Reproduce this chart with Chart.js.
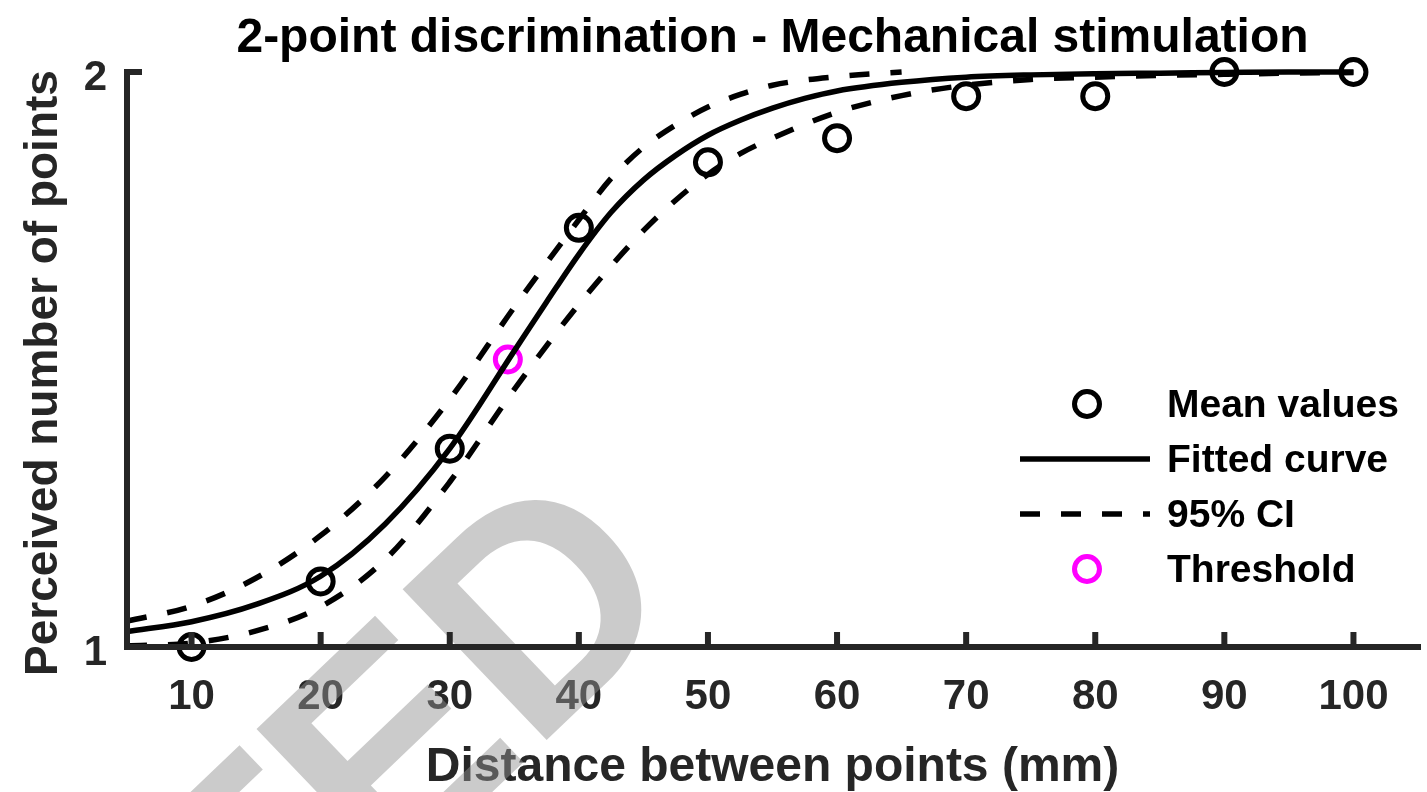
<!DOCTYPE html>
<html>
<head>
<meta charset="utf-8">
<title>2-point discrimination - Mechanical stimulation</title>
<script src="https://cdn.jsdelivr.net/npm/chart.js@4.4.1/dist/chart.umd.min.js"></script>
<style>
  html, body { margin: 0; padding: 0; background: #fff; }
  #wrap { width: 1427px; height: 792px; }
</style>
</head>
<body>
<div id="wrap"><canvas id="myChart" width="1427" height="792"></canvas></div>
<script>
// values
var xTicks = [10, 20, 30, 40, 50, 60, 70, 80, 90, 100];
var yTicks = [1, 2];

var meanX = [10, 20, 30, 40, 50, 60, 70, 80, 90, 100];
var meanY = [1.0, 1.114, 1.345, 1.729, 1.843, 1.885, 1.958, 1.958, 2.0, 2.0];

var fitX = [5, 10, 15, 20, 25, 30, 35, 37.5, 40, 42.5, 45, 47.5, 50, 52.5, 55, 57.5, 60, 65, 70, 75, 80, 85, 90, 95, 100];
var fitY = [1.027, 1.044, 1.074, 1.123, 1.214, 1.345, 1.515, 1.600, 1.683, 1.756, 1.812, 1.855, 1.890, 1.916, 1.937, 1.954, 1.967, 1.982, 1.991, 1.995, 1.997, 1.998, 1.999, 2.0, 2.0];

var ciUpX = [5, 10, 15, 20, 25, 30, 35, 40, 42.5, 45, 47.5, 50, 52.5, 55, 60, 65];
var ciUpY = [1.045, 1.071, 1.120, 1.194, 1.296, 1.431, 1.591, 1.743, 1.815, 1.869, 1.908, 1.939, 1.961, 1.977, 1.992, 2.0];

var ciLoX = [5, 10, 15, 20, 25, 30, 35, 40, 45, 47.5, 50, 52.5, 55, 60, 65, 70, 75, 80, 85, 90, 95, 100];
var ciLoY = [1.002, 1.007, 1.028, 1.070, 1.152, 1.287, 1.448, 1.596, 1.724, 1.777, 1.822, 1.858, 1.885, 1.930, 1.959, 1.977, 1.987, 1.991, 1.994, 1.996, 1.998, 1.999];

var threshX = [34.5];
var threshY = [1.5];

var chartTitle = "2-point discrimination - Mechanical stimulation";
var yTitle = "Perceived number of points";
var xTitle = "Distance between points (mm)";
var stampText = "TED";

function pts(xs, ys) {
  return xs.map(function (x, i) { return { x: x, y: ys[i] }; });
}

var FONT = '"Liberation Sans", Arial, Helvetica, sans-serif';
Chart.defaults.font.family = FONT;

// title, y label, faded stamp, axes with inward ticks and the legend
var overlay = {
  id: "overlay",
  afterDraw: function (chart) {
    var ctx = chart.ctx, a = chart.chartArea;
    var sx = chart.scales.x, sy = chart.scales.y;
    ctx.save();

    // title over the plot area
    ctx.fillStyle = "#000";
    ctx.font = "bold 48px " + FONT;
    ctx.textAlign = "center";
    ctx.textBaseline = "middle";
    ctx.fillText(chartTitle, (a.left + a.right) / 2, 39);

    // y axis label
    ctx.save();
    ctx.translate(44, 373);
    ctx.rotate(-Math.PI / 2);
    ctx.fillStyle = "#262626";
    ctx.font = "bold 46px " + FONT;
    ctx.fillText(yTitle, 0, 0);
    ctx.restore();

    // faded stamp across the lower left
    ctx.save();
    ctx.translate(532, 754);
    ctx.rotate(-43.7 * Math.PI / 180);
    ctx.font = "bold 303px " + FONT;
    ctx.textAlign = "left";
    ctx.textBaseline = "alphabetic";
    ctx.fillStyle = "rgba(146,146,146,0.48)";
    var lead = ctx.measureText(stampText.slice(0, -1)).width;
    ctx.fillText(stampText, -lead, 0);
    ctx.restore();

    // axes lines and inward ticks
    ctx.strokeStyle = "#262626";
    ctx.lineWidth = 6;
    ctx.lineCap = "square";
    ctx.beginPath();
    ctx.moveTo(a.left, a.top);
    ctx.lineTo(a.left, a.bottom);
    ctx.lineTo(a.right, a.bottom);
    ctx.stroke();
    ctx.lineCap = "butt";
    ctx.beginPath();
    sx.ticks.forEach(function (t) {
      var p = sx.getPixelForValue(t.value);
      ctx.moveTo(p, a.bottom);
      ctx.lineTo(p, a.bottom - 15);
    });
    sy.ticks.forEach(function (t) {
      var p = sy.getPixelForValue(t.value);
      ctx.moveTo(a.left, p);
      ctx.lineTo(a.left + 15, p);
    });
    ctx.stroke();

    // legend inside the plot, lower right
    var seen = {}, row = 0;
    chart.data.datasets.forEach(function (ds) {
      if (seen[ds.label]) return;
      seen[ds.label] = true;
      var y = a.top + 332 + 55 * row;
      ctx.strokeStyle = ds.borderColor;
      ctx.lineWidth = ds.borderWidth;
      if (ds.showLine) {
        ctx.setLineDash(ds.borderDash || []);
        ctx.beginPath();
        ctx.moveTo(a.right - 398, y);
        ctx.lineTo(a.right - 268, y);
        ctx.stroke();
        ctx.setLineDash([]);
      } else {
        ctx.beginPath();
        ctx.arc(a.right - 331, y, ds.pointRadius, 0, Math.PI * 2);
        ctx.stroke();
      }
      ctx.fillStyle = "#000";
      ctx.font = "bold 39px " + FONT;
      ctx.textBaseline = "middle";
      ctx.textAlign = "left";
      ctx.fillText(ds.label, a.right - 251, y + 2);
      row++;
    });
    ctx.restore();
  }
};

new Chart("myChart", {
  type: "scatter",
  data: {
    datasets: [
      {
        label: "Mean values",
        data: pts(meanX, meanY),
        showLine: false,
        borderColor: "#000",
        backgroundColor: "rgba(0,0,0,0)",
        borderWidth: 5,
        pointRadius: 12.5,
        clip: false
      },
      {
        label: "Fitted curve",
        data: pts(fitX, fitY),
        showLine: true,
        borderColor: "#000",
        borderWidth: 5.5,
        pointRadius: 0,
        cubicInterpolationMode: "monotone",
        clip: false
      },
      {
        label: "95% CI",
        data: pts(ciUpX, ciUpY),
        showLine: true,
        borderColor: "#000",
        borderWidth: 5.5,
        borderDash: [20, 21],
        pointRadius: 0,
        cubicInterpolationMode: "monotone",
        clip: false
      },
      {
        label: "95% CI",
        data: pts(ciLoX, ciLoY),
        showLine: true,
        borderColor: "#000",
        borderWidth: 5.5,
        borderDash: [20, 21],
        pointRadius: 0,
        cubicInterpolationMode: "monotone",
        clip: false
      },
      {
        label: "Threshold",
        data: pts(threshX, threshY),
        showLine: false,
        borderColor: "#ff00ff",
        backgroundColor: "rgba(0,0,0,0)",
        borderWidth: 5,
        pointRadius: 12.5,
        clip: false
      }
    ]
  },
  options: {
    responsive: false,
    animation: false,
    devicePixelRatio: 1,
    layout: { autoPadding: false, padding: { left: 0, right: 9, top: 72, bottom: 0 } },
    plugins: {
      legend: { display: false },
      tooltip: { enabled: false },
      title: { display: false }
    },
    scales: {
      x: {
        type: "linear",
        min: 5,
        max: 105,
        afterBuildTicks: function (s) {
          s.ticks = xTicks.map(function (v) { return { value: v }; });
        },
        afterFit: function (s) { s.height = 145; s.paddingLeft = 0; s.paddingRight = 0; },
        grid: { display: false, drawTicks: false },
        border: { display: false },
        ticks: {
          color: "#262626",
          padding: 25,
          autoSkip: false,
          maxRotation: 0,
          font: { size: 42, weight: "bold" }
        },
        title: {
          display: true,
          text: xTitle,
          color: "#262626",
          font: { size: 48, weight: "bold", lineHeight: 1 },
          padding: { top: 0, bottom: 0 }
        }
      },
      y: {
        type: "linear",
        min: 1,
        max: 2,
        afterBuildTicks: function (s) {
          s.ticks = yTicks.map(function (v) { return { value: v }; });
        },
        afterFit: function (s) { s.width = 127; s.paddingTop = 0; s.paddingBottom = 0; },
        grid: { display: false, drawTicks: false },
        border: { display: false },
        ticks: {
          color: "#262626",
          padding: 20,
          labelOffset: 6,
          font: { size: 42, weight: "bold" }
        },
        title: { display: false }
      }
    }
  },
  plugins: [overlay]
});
</script>
</body>
</html>
